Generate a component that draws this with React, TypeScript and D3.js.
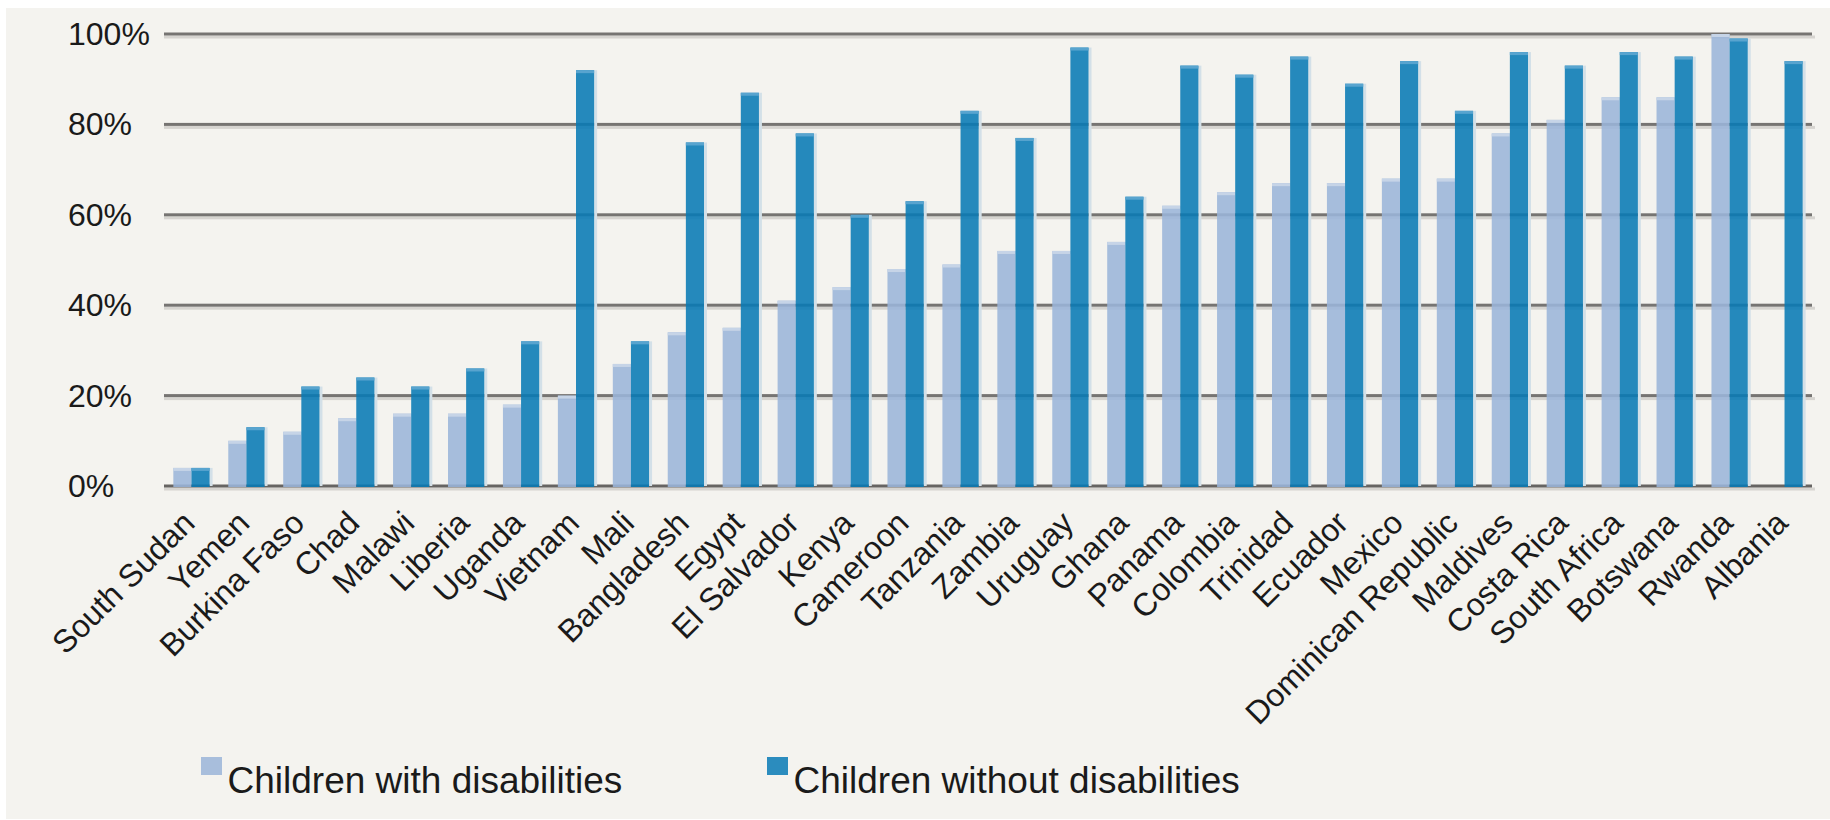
import { useRef, useEffect } from "react";
import * as d3 from "d3";

// Countries, ordered as in the chart
const countries = [
  "South Sudan", "Yemen", "Burkina Faso", "Chad", "Malawi", "Liberia", "Uganda",
  "Vietnam", "Mali", "Bangladesh", "Egypt", "El Salvador", "Kenya", "Cameroon",
  "Tanzania", "Zambia", "Uruguay", "Ghana", "Panama", "Colombia", "Trinidad",
  "Ecuador", "Mexico", "Dominican Republic", "Maldives", "Costa Rica",
  "South Africa", "Botswana", "Rwanda", "Albania",
];

// Percent values per series (null = no bar)
const withDisabilities: (number | null)[] = [
  4, 10, 12, 15, 16, 16, 18, 20, 27, 34, 35, 41, 44, 48, 49, 52, 52, 54, 62, 65,
  67, 67, 68, 68, 78, 81, 86, 86, 100, null,
];
const withoutDisabilities: (number | null)[] = [
  4, 13, 22, 24, 22, 26, 32, 92, 32, 76, 87, 78, 60, 63, 83, 77, 97, 64, 93, 91,
  95, 89, 94, 83, 96, 93, 96, 95, 99, 94,
];

const seriesNames = ["Children with disabilities", "Children without disabilities"];
const yTicks = [0, 20, 40, 60, 80, 100];

const colors = ["#9bb5d9", "#087ab5"];
const capColors = ["#c6d4e7", "#58a4cf"];

const W = 1830;
const H = 820;

const App = () => {
  const svgRef = useRef<SVGSVGElement | null>(null);

  useEffect(() => {
    if (!svgRef.current) return;
    const svg = d3.select(svgRef.current);
    svg.selectAll("*").remove();

    const font = "'Liberation Sans', Arial, sans-serif";

    // panel background
    svg.append("rect")
      .attr("x", 6).attr("y", 8)
      .attr("width", W - 6).attr("height", H - 9)
      .attr("fill", "#f4f3ef");

    const x = d3.scaleBand<string>()
      .domain(countries)
      .range([164, 1812])
      .paddingInner(0.34)
      .paddingOuter(0.17);

    const xSub = d3.scaleBand<number>()
      .domain([0, 1])
      .range([0, x.bandwidth()]);

    const y = d3.scaleLinear().domain([0, 100]).range([486, 34]);

    // gridlines: dark line with a light shade below
    const grid = svg.append("g");
    yTicks.forEach((t) => {
      grid.append("rect")
        .attr("x", 164).attr("y", y(t) + 1.5)
        .attr("width", 1812 - 164 + 3).attr("height", 3)
        .attr("fill", "#d6d4d0");
      grid.append("rect")
        .attr("x", 164).attr("y", y(t) - 1.5)
        .attr("width", 1812 - 164).attr("height", 3)
        .attr("fill", t === 0 ? "#666462" : "#767472");
    });

    // y labels
    svg.append("g")
      .selectAll("text")
      .data(yTicks)
      .enter()
      .append("text")
      .attr("x", 68)
      .attr("y", (d) => y(d))
      .attr("dominant-baseline", "central")
      .style("font-family", font)
      .style("font-size", "32px")
      .style("fill", "#1a1a1a")
      .text((d) => `${d}%`);

    // bars
    const series = [withDisabilities, withoutDisabilities];
    series.forEach((vals, si) => {
      const g = svg.append("g");
      const data = countries
        .map((c, i) => ({ c, v: vals[i] }))
        .filter((d) => d.v !== null) as { c: string; v: number }[];

      // faint shade to the right of each dark bar
      if (si === 1) {
        g.selectAll("rect.shade")
          .data(data)
          .enter()
          .append("rect")
          .attr("class", "shade")
          .attr("x", (d) => (x(d.c) ?? 0) + xSub(si)! + xSub.bandwidth())
          .attr("y", (d) => y(d.v))
          .attr("width", 3)
          .attr("height", (d) => y(0) - y(d.v))
          .attr("fill", "#d3e0e8");
      }

      g.selectAll("rect.bar")
        .data(data)
        .enter()
        .append("rect")
        .attr("class", "bar")
        .attr("x", (d) => (x(d.c) ?? 0) + xSub(si)!)
        .attr("y", (d) => y(d.v))
        .attr("width", xSub.bandwidth())
        .attr("height", (d) => y(0) + 1 - y(d.v))
        .attr("fill", colors[si])
        .attr("fill-opacity", 0.88);

      g.selectAll("rect.cap")
        .data(data)
        .enter()
        .append("rect")
        .attr("class", "cap")
        .attr("x", (d) => (x(d.c) ?? 0) + xSub(si)!)
        .attr("y", (d) => y(d.v))
        .attr("width", xSub.bandwidth())
        .attr("height", 3)
        .attr("fill", capColors[si]);
    });

    // x labels
    svg.append("g")
      .selectAll("text")
      .data(countries)
      .enter()
      .append("text")
      .attr("transform", (d) =>
        `translate(${(x(d) ?? 0) + x.bandwidth() / 2 + 5},525) rotate(-45)`)
      .attr("text-anchor", "end")
      .style("font-family", font)
      .style("font-size", "32px")
      .style("fill", "#1a1a1a")
      .text((d) => d);

    // legend
    const legendX = [201, 767];
    const legend = svg.append("g");
    seriesNames.forEach((name, i) => {
      legend.append("rect")
        .attr("x", legendX[i]).attr("y", 757)
        .attr("width", 21).attr("height", 18)
        .attr("fill", i === 0 ? "#a8bedc" : "#2b8cbe");
      legend.append("text")
        .attr("x", legendX[i] + 26.5)
        .attr("y", 793)
        .style("font-family", font)
        .style("font-size", "37px")
        .style("fill", "#1a1a1a")
        .text(name);
    });
  }, []);

  return (
    <svg
      ref={svgRef}
      width={W}
      height={H}
      style={{ position: "absolute", left: 0, top: 0, background: "#ffffff" }}
    ></svg>
  );
};

export default App;
